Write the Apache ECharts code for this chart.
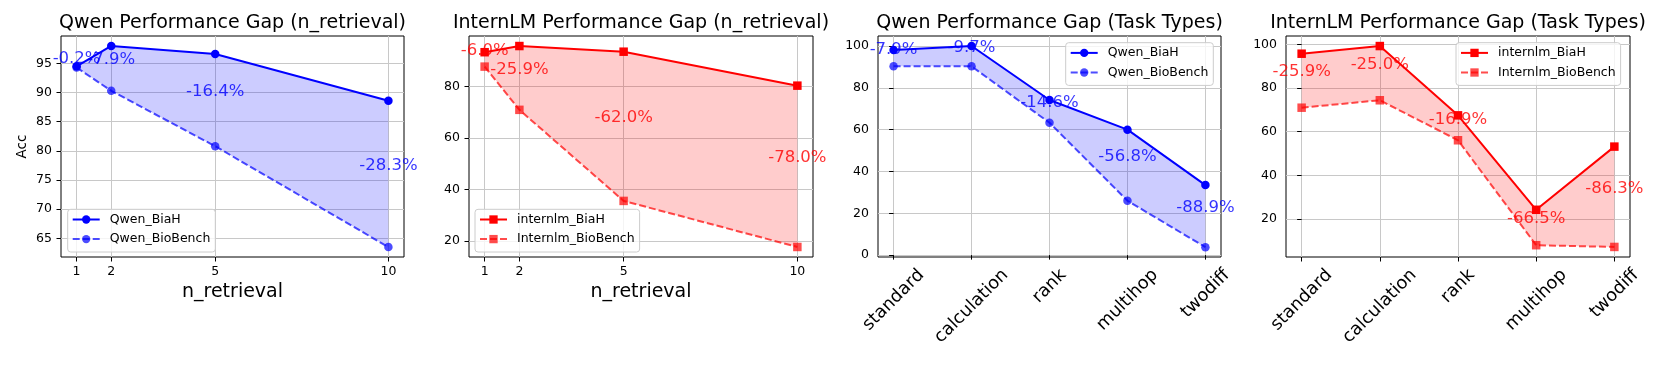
<!DOCTYPE html>
<html>
<head>
<meta charset="utf-8">
<script src="https://cdn.jsdelivr.net/npm/echarts@6/dist/echarts.min.js"></script>
<style>
  html, body { margin: 0; padding: 0; background: #fff; }
  #chart { width: 1661px; height: 366px; }
</style>
</head>
<body>
<div id="chart"></div>
<script>
const nRetrieval = [1, 2, 5, 10];
const taskTypes = ["standard", "calculation", "rank", "multihop", "twodiff"];

const qwenBiahN = [94.5, 98.0, 96.6, 88.6];
const qwenBioN = [94.3, 90.3, 80.8, 63.5];
const qwenGapN = ["-0.2%", "-7.9%", "-16.4%", "-28.3%"];

const internBiahN = [93.4, 95.8, 93.6, 80.4];
const internBioN = [87.8, 71.0, 35.6, 17.7];
const internGapN = ["-6.0%", "-25.9%", "-62.0%", "-78.0%"];

const qwenBiahT = [98.1, 100.0, 74.2, 60.0, 33.5];
const qwenBioT = [90.3, 90.3, 63.3, 26.0, 3.8];
const qwenGapT = ["-7.9%", "-9.7%", "-14.6%", "-56.8%", "-88.9%"];

const internBiahT = [95.7, 99.2, 67.5, 24.3, 53.2];
const internBioT = [71.0, 74.4, 56.1, 8.1, 7.3];
const internGapT = ["-25.9%", "-25.0%", "-16.9%", "-66.5%", "-86.3%"];

const xTicksN = [1, 2, 5, 10];
const xTicksT = [0, 1, 2, 3, 4];
const yTicksQwenN = [65, 70, 75, 80, 85, 90, 95];
const yTicksInternN = [20, 40, 60, 80];
const yTicksQwenT = [0, 20, 40, 60, 80, 100];
const yTicksInternT = [20, 40, 60, 80, 100];

const FONT = '"DejaVu Sans", sans-serif';
const BLUE = "#0000ff";
const RED = "#ff0000";
const CAT_SIZE = 17.7;

// per-label padding so rotated category labels are centred under their tick
const measure = document.createElement("canvas").getContext("2d");
measure.font = CAT_SIZE + 'px "DejaVu Sans"';
const catRich = {};
taskTypes.forEach((c, i) => {
  const p = (measure.measureText(c).width + CAT_SIZE) / 2;
  catRich["c" + i] = { padding: [p, p, 0, 0] };
});

const panels = [
  {
    title: "Qwen Performance Gap (n_retrieval)", left: 61, width: 343,
    xs: nRetrieval, xMin: 0.55, xMax: 10.45, xTicks: xTicksN,
    yMin: 61.8, yMax: 99.7, yTicks: yTicksQwenN,
    biah: qwenBiahN, bio: qwenBioN, gaps: qwenGapN,
    names: ["Qwen_BiaH", "Qwen_BioBench"], color: BLUE, fill: "rgba(0,0,255,0.2)",
    bioColor: "rgba(0,0,255,0.7)", symbol: "circle",
    legend: { left: 67.7, top: 209.3 }, xName: "n_retrieval", yName: "Acc",
  },
  {
    title: "InternLM Performance Gap (n_retrieval)", left: 469, width: 344,
    xs: nRetrieval, xMin: 0.55, xMax: 10.45, xTicks: xTicksN,
    yMin: 13.8, yMax: 99.7, yTicks: yTicksInternN,
    biah: internBiahN, bio: internBioN, gaps: internGapN,
    names: ["internlm_BiaH", "Internlm_BioBench"], color: RED, fill: "rgba(255,0,0,0.2)",
    bioColor: "rgba(255,0,0,0.7)", symbol: "rect",
    legend: { left: 475, top: 209.3 }, xName: "n_retrieval",
  },
  {
    title: "Qwen Performance Gap (Task Types)", left: 878, width: 343,
    xs: xTicksT, xMin: -0.2, xMax: 4.2, xTicks: xTicksT, cats: true,
    yMin: -0.9, yMax: 104.8, yTicks: yTicksQwenT,
    biah: qwenBiahT, bio: qwenBioT, gaps: qwenGapT,
    names: ["Qwen_BiaH", "Qwen_BioBench"], color: BLUE, fill: "rgba(0,0,255,0.2)",
    bioColor: "rgba(0,0,255,0.7)", symbol: "circle",
    legend: { left: 1065.7, top: 42.7 },
  },
  {
    title: "InternLM Performance Gap (Task Types)", left: 1286, width: 344,
    xs: xTicksT, xMin: -0.2, xMax: 4.2, xTicks: xTicksT, cats: true,
    yMin: 2.7, yMax: 103.8, yTicks: yTicksInternT,
    biah: internBiahT, bio: internBioT, gaps: internGapT,
    names: ["internlm_BiaH", "Internlm_BioBench"], color: RED, fill: "rgba(255,0,0,0.2)",
    bioColor: "rgba(255,0,0,0.7)", symbol: "rect",
    legend: { left: 1456, top: 42.7 },
  },
];

const option = {
  animation: false,
  textStyle: { fontFamily: FONT },
  title: [], grid: [], xAxis: [], yAxis: [], legend: [], series: [],
};

panels.forEach((p, i) => {
  option.title.push({
    text: p.title, left: p.left + p.width / 2, top: 14, textAlign: "center", padding: 0,
    textStyle: { fontFamily: FONT, fontSize: 19, fontWeight: "normal", color: "#000" },
  });
  option.grid.push({
    left: p.left, top: 36, width: p.width, height: 221,
    show: true, borderColor: "#000", borderWidth: 1, backgroundColor: "transparent",
  });
  const xLabel = p.cats
    ? {
        customValues: p.xTicks, rotate: 45, align: "center", verticalAlign: "middle",
        margin: 9, fontSize: CAT_SIZE, color: "#000", fontFamily: FONT, rich: catRich,
        formatter: (v) => `{c${v}|${taskTypes[v]}}`,
      }
    : { customValues: p.xTicks, margin: 8, fontSize: 12.5, color: "#000", fontFamily: FONT };
  option.xAxis.push({
    type: "value", gridIndex: i, min: p.xMin, max: p.xMax,
    name: p.xName || "", nameLocation: "middle", nameGap: 24,
    nameTextStyle: { fontSize: 19, color: "#000", fontFamily: FONT },
    axisLine: { show: false },
    axisTick: { show: true, customValues: p.xTicks, length: 4.5, lineStyle: { color: "#000", width: 1 } },
    axisLabel: xLabel,
    splitLine: { show: true, lineStyle: { color: "#c8c8c8", width: 1 } },
  });
  option.yAxis.push({
    type: "value", gridIndex: i, min: p.yMin, max: p.yMax,
    name: p.yName || "", nameLocation: "middle", nameGap: 32,
    nameTextStyle: { fontSize: 13.5, color: "#000", fontFamily: FONT },
    axisLine: { show: false },
    axisTick: { show: true, customValues: p.yTicks, length: 4.5, lineStyle: { color: "#000", width: 1 } },
    axisLabel: { customValues: p.yTicks, margin: 9, fontSize: 12.5, color: "#000", fontFamily: FONT },
    splitLine: { show: true, lineStyle: { color: "#c8c8c8", width: 1 } },
  });
  option.legend.push({
    data: p.names, orient: "vertical", left: p.legend.left, top: p.legend.top,
    itemWidth: 27, itemHeight: 10.4, itemGap: 6.6,
    padding: [3.7, 5, 6.4, 4],
    backgroundColor: "rgba(255,255,255,0.8)", borderColor: "#cccccc", borderWidth: 1, borderRadius: 3,
    textStyle: { fontSize: 12.5, color: "#000", fontFamily: FONT, padding: [0, 0, 0, 5] },
  });

  const pairs = (ys) => p.xs.map((x, k) => [x, ys[k]]);
  // shaded gap between the two lines, one polygon through the axis scales
  option.series.push({
    name: "fill" + i, type: "custom", xAxisIndex: i, yAxisIndex: i,
    data: pairs(p.biah), silent: true, z: 1,
    renderItem: (params, api) => {
      if (params.dataIndex !== 0) return;
      const upper = p.xs.map((x, k) => api.coord([x, p.biah[k]]));
      const lower = p.xs.map((x, k) => api.coord([x, p.bio[k]])).reverse();
      return {
        type: "polygon",
        shape: { points: upper.concat(lower) },
        style: { fill: p.fill, stroke: "none" },
      };
    },
  });
  option.series.push({
    name: p.names[0], type: "line", xAxisIndex: i, yAxisIndex: i,
    data: pairs(p.biah), symbol: p.symbol, symbolSize: 8.5,
    itemStyle: { color: p.color }, lineStyle: { color: p.color, width: 2 }, z: 3,
  });
  option.series.push({
    name: p.names[1], type: "line", xAxisIndex: i, yAxisIndex: i,
    data: pairs(p.bio), symbol: p.symbol, symbolSize: 8.5,
    itemStyle: { color: p.bioColor }, lineStyle: { color: p.bioColor, width: 2, type: [7, 3] }, z: 3,
  });
  option.series.push({
    name: "gap" + i, type: "scatter", xAxisIndex: i, yAxisIndex: i,
    data: pairs(p.biah.map((v, k) => (v + p.bio[k]) / 2)), symbolSize: 0, silent: true, z: 4,
    label: {
      show: true, position: "top", distance: 0, fontSize: 16.5, color: p.color, fontFamily: FONT,
      formatter: (d) => p.gaps[d.dataIndex],
    },
  });
});

const chart = echarts.init(document.getElementById("chart"));
chart.setOption(option);
window.addEventListener("resize", () => chart.resize());
</script>
</body>
</html>
